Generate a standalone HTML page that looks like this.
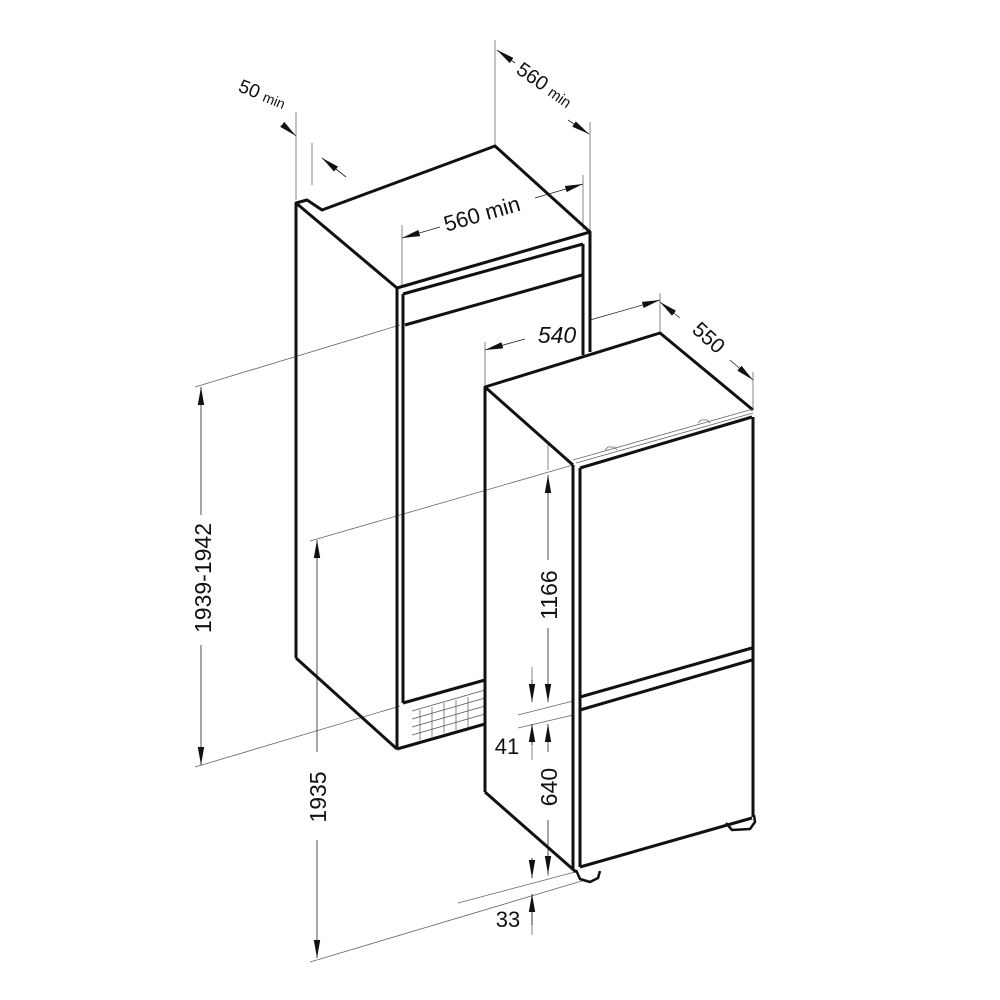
<!DOCTYPE html>
<html><head><meta charset="utf-8"><style>
html,body{margin:0;padding:0;background:#fff;width:1000px;height:1000px;overflow:hidden}
svg{display:block}
text{font-family:"Liberation Sans","DejaVu Sans",sans-serif;fill:#111}
</style></head><body>
<svg width="1000" height="1000" viewBox="0 0 1000 1000" xmlns="http://www.w3.org/2000/svg">
<defs>
<marker id="a" viewBox="0 0 10 10" refX="10" refY="5" markerWidth="18" markerHeight="8" markerUnits="userSpaceOnUse" orient="auto-start-reverse" preserveAspectRatio="none"><path d="M0,1 L10,5 L0,9 Z" fill="#111"/></marker>
</defs>
<g stroke="#666" stroke-width="0.8" fill="none">
<line x1="195" y1="387" x2="400" y2="325"/>
<line x1="195" y1="767" x2="400" y2="706"/>
<line x1="310" y1="541" x2="573" y2="465"/>
<line x1="310" y1="962" x2="585" y2="880"/>
<line x1="458" y1="903" x2="575" y2="872"/>
<line x1="518" y1="715" x2="573" y2="701"/>
<line x1="518" y1="728" x2="573" y2="715"/>
<line x1="296" y1="200" x2="296" y2="112"/>
<line x1="312" y1="185" x2="312" y2="143"/>
<line x1="495" y1="145" x2="495" y2="40"/>
<line x1="590" y1="232" x2="590" y2="122"/>
<line x1="402" y1="288" x2="402" y2="225"/>
<line x1="583" y1="230" x2="583" y2="175"/>
<line x1="485" y1="385" x2="485" y2="342"/>
<line x1="660" y1="333" x2="660" y2="293"/>
<line x1="753" y1="410" x2="753" y2="372"/>
<line x1="548" y1="442" x2="548" y2="470"/>
<line x1="532" y1="667" x2="532" y2="690"/>
<line x1="532" y1="760" x2="532" y2="740"/>
<line x1="532" y1="858" x2="532" y2="878"/>
<line x1="532" y1="935" x2="532" y2="906"/>
<line x1="548" y1="862" x2="548" y2="876"/>
</g>
<g stroke="#222" stroke-width="0.8" fill="none">
<line x1="201" y1="387" x2="201" y2="515" marker-start="url(#a)"/>
<line x1="201" y1="645" x2="201" y2="765" marker-end="url(#a)"/>
<line x1="317" y1="540" x2="317" y2="752" marker-start="url(#a)"/>
<line x1="317" y1="840" x2="317" y2="958" marker-end="url(#a)"/>
<line x1="548" y1="475" x2="548" y2="560" marker-start="url(#a)"/>
<line x1="548" y1="628" x2="548" y2="702" marker-end="url(#a)"/>
<line x1="532" y1="680" x2="532" y2="702" marker-end="url(#a)"/>
<line x1="532" y1="745" x2="532" y2="724" marker-end="url(#a)"/>
<line x1="548" y1="752" x2="548" y2="724" marker-end="url(#a)"/>
<line x1="548" y1="820" x2="548" y2="874" marker-end="url(#a)"/>
<line x1="532" y1="858" x2="532" y2="878" marker-end="url(#a)"/>
<line x1="532" y1="925" x2="532" y2="894" marker-end="url(#a)"/>
<line x1="402" y1="238" x2="440" y2="227" marker-start="url(#a)"/>
<line x1="535" y1="198" x2="583" y2="184" marker-end="url(#a)"/>
<line x1="485" y1="350" x2="525" y2="339" marker-start="url(#a)"/>
<line x1="590" y1="320" x2="660" y2="300" marker-end="url(#a)"/>
<line x1="660" y1="302" x2="680" y2="318" marker-start="url(#a)"/>
<line x1="730" y1="360" x2="753" y2="380" marker-end="url(#a)"/>
<line x1="497" y1="50" x2="515" y2="63" marker-start="url(#a)"/>
<line x1="568" y1="120" x2="589" y2="134" marker-end="url(#a)"/>
<line x1="283" y1="125" x2="296" y2="136" marker-end="url(#a)"/>
<line x1="346" y1="177" x2="322" y2="158" marker-end="url(#a)"/>
</g>
<g stroke="#111" stroke-width="3" fill="none" stroke-linejoin="round">
<polyline points="296,658 296,203 307,200 322,210 487,149 495,146 590,232 590,352"/>
<line x1="296" y1="203" x2="397" y2="288"/>
<line x1="397" y1="288" x2="590" y2="232"/>
<line x1="296" y1="658" x2="397" y2="749"/>
<line x1="397" y1="749" x2="485" y2="724"/>
<line x1="397" y1="288" x2="397" y2="749"/>
<line x1="403" y1="294" x2="403" y2="703"/>
<line x1="403" y1="294" x2="583" y2="244"/>
<line x1="403" y1="703" x2="485" y2="680"/>
<line x1="405" y1="325" x2="582" y2="275"/>
<line x1="583" y1="244" x2="583" y2="355"/>
</g>
<g stroke="#555" stroke-width="0.7" fill="none">
<path d="M412,711 L485,690 M412,719 L485,698 M412,727 L485,706 M412,735 L485,714 M420,710 V740 M432,707 V737 M444,703 V733 M456,700 V730 M468,697 V727"/>
</g>
<g stroke="#111" stroke-width="3" fill="none" stroke-linejoin="round">
<polyline points="485,792 485,387 660,333 753,410"/>
<line x1="485" y1="387" x2="573" y2="465"/>
<line x1="485" y1="792" x2="576" y2="872"/>
<line x1="573" y1="465" x2="573" y2="870"/>
<line x1="580" y1="468" x2="580" y2="867"/>
<line x1="580" y1="468" x2="752" y2="417"/>
<line x1="753" y1="417" x2="753" y2="817"/>
<line x1="580" y1="697" x2="752" y2="648"/>
<line x1="580" y1="710" x2="752" y2="660"/>
<line x1="580" y1="867" x2="752" y2="818"/>
<path d="M576,870 L580,879 L590,882 L598,878 L600,871" stroke-width="2.5"/>
<path d="M726,823 L732,830 L750,829 L755,822 L754,815" stroke-width="2.5"/>
</g>
<g stroke="#666" stroke-width="0.8" fill="none">
<line x1="573" y1="460" x2="753" y2="409"/>
<line x1="576" y1="463" x2="753" y2="413"/>
<path d="M605,450 l3,-3 h6 l3,3 M698,423 l3,-3 h6 l3,3"/>
</g>
<text transform="translate(211,578) rotate(-90)" font-size="23" text-anchor="middle">1939-1942</text>
<text transform="translate(326,797) rotate(-90)" font-size="23" text-anchor="middle">1935</text>
<text transform="translate(557,595) rotate(-90)" font-size="23" text-anchor="middle">1166</text>
<text transform="translate(557,787) rotate(-90)" font-size="23" text-anchor="middle">640</text>
<text x="507" y="754" font-size="22" text-anchor="middle">41</text>
<text x="508" y="927" font-size="22" text-anchor="middle">33</text>
<text transform="translate(484,221) rotate(-16)" font-size="22" text-anchor="middle">560 min</text>
<text x="557" y="343" font-size="23" text-anchor="middle" font-style="italic">540</text>
<text transform="translate(704,343) rotate(42)" font-size="21" text-anchor="middle">550</text>
<text transform="translate(533,85) rotate(35)" font-size="20" x="-22">560 <tspan font-size="15">min</tspan></text>
<text transform="translate(260,100) rotate(22)" font-size="19" text-anchor="middle">50 <tspan font-size="14">min</tspan></text>
</svg>
</body></html>
